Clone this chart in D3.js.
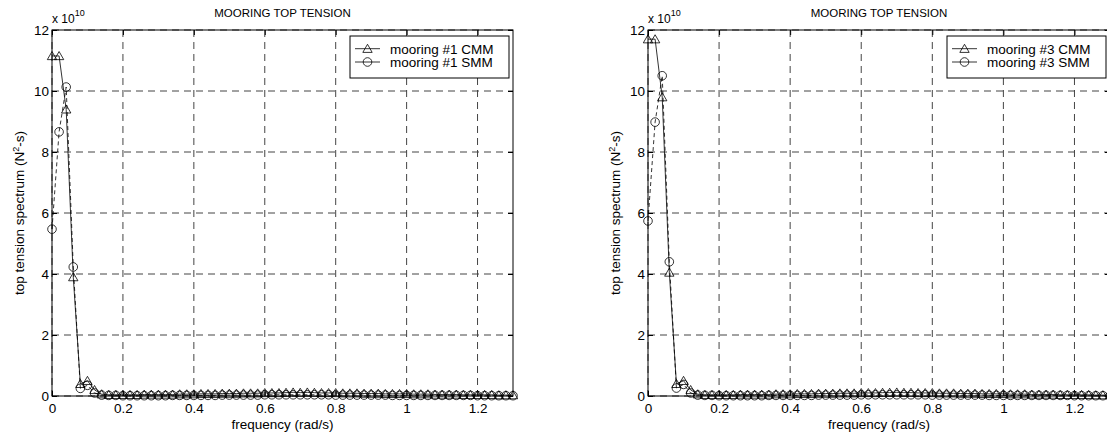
<!DOCTYPE html>
<html>
<head>
<meta charset="utf-8">
<script src="https://cdn.jsdelivr.net/npm/d3@7"></script>
<style>
  body { margin: 0; background: #fff; }
  svg { display: block; font-family: "Liberation Sans", Arial, Helvetica, sans-serif; }
</style>
</head>
<body>
<div id="chart"></div>
<script>
// frequency (rad/s)
const freq = [0, 0.02, 0.04, 0.06, 0.08, 0.10, 0.12, 0.14, 0.16, 0.18,
    0.20, 0.22, 0.24, 0.26, 0.28, 0.30, 0.32, 0.34, 0.36, 0.38,
    0.40, 0.42, 0.44, 0.46, 0.48, 0.50, 0.52, 0.54, 0.56, 0.58,
    0.60, 0.62, 0.64, 0.66, 0.68, 0.70, 0.72, 0.74, 0.76, 0.78,
    0.80, 0.82, 0.84, 0.86, 0.88, 0.90, 0.92, 0.94, 0.96, 0.98,
    1.00, 1.02, 1.04, 1.06, 1.08, 1.10, 1.12, 1.14, 1.16, 1.18,
    1.20, 1.22, 1.24, 1.26, 1.28, 1.30];

// top tension spectrum, x 10^10 N^2-s
const cmm1 = [11.15, 11.15, 9.40, 3.90, 0.40, 0.50, 0.20, 0.06, 0.04, 0.04,
    0.04, 0.04, 0.04, 0.05, 0.05, 0.05, 0.05, 0.05, 0.06, 0.06,
    0.06, 0.07, 0.07, 0.07, 0.08, 0.08, 0.08, 0.09, 0.09, 0.09,
    0.10, 0.10, 0.10, 0.11, 0.12, 0.11, 0.12, 0.11, 0.10, 0.10,
    0.10, 0.09, 0.09, 0.09, 0.08, 0.08, 0.08, 0.07, 0.07, 0.07,
    0.07, 0.06, 0.06, 0.06, 0.05, 0.05, 0.05, 0.05, 0.04, 0.04,
    0.04, 0.04, 0.04, 0.03, 0.03, 0.03];
const smm1 = [5.47, 8.66, 10.13, 4.23, 0.25, 0.35, 0.10, 0.03, 0.02, 0.02,
    0.01, 0.01, 0.01, 0.01, 0.01, 0.01, 0.01, 0.02, 0.02, 0.02,
    0.02, 0.02, 0.02, 0.02, 0.03, 0.03, 0.03, 0.03, 0.03, 0.03,
    0.04, 0.04, 0.04, 0.04, 0.04, 0.04, 0.04, 0.04, 0.04, 0.04,
    0.03, 0.03, 0.03, 0.03, 0.03, 0.03, 0.03, 0.03, 0.02, 0.02,
    0.02, 0.02, 0.02, 0.02, 0.02, 0.02, 0.02, 0.02, 0.02, 0.02,
    0.01, 0.01, 0.01, 0.01, 0.01, 0.01];
const cmm3 = [11.70, 11.70, 9.80, 4.05, 0.40, 0.50, 0.20, 0.06, 0.04, 0.04,
    0.04, 0.04, 0.04, 0.05, 0.05, 0.05, 0.05, 0.05, 0.06, 0.06,
    0.06, 0.07, 0.07, 0.07, 0.08, 0.08, 0.08, 0.09, 0.09, 0.09,
    0.10, 0.10, 0.10, 0.11, 0.11, 0.12, 0.11, 0.11, 0.10, 0.10,
    0.10, 0.09, 0.09, 0.09, 0.08, 0.08, 0.08, 0.07, 0.07, 0.07,
    0.07, 0.06, 0.06, 0.06, 0.05, 0.05, 0.05, 0.05, 0.04, 0.04,
    0.04, 0.04, 0.04, 0.03, 0.03, 0.03];
const smm3 = [5.74, 8.98, 10.50, 4.40, 0.26, 0.38, 0.10, 0.03, 0.02, 0.02,
    0.01, 0.01, 0.01, 0.01, 0.01, 0.01, 0.01, 0.02, 0.02, 0.02,
    0.02, 0.02, 0.02, 0.02, 0.03, 0.03, 0.03, 0.03, 0.03, 0.03,
    0.04, 0.04, 0.04, 0.04, 0.04, 0.04, 0.04, 0.04, 0.04, 0.04,
    0.03, 0.03, 0.03, 0.03, 0.03, 0.03, 0.03, 0.03, 0.02, 0.02,
    0.02, 0.02, 0.02, 0.02, 0.02, 0.02, 0.02, 0.02, 0.02, 0.02,
    0.01, 0.01, 0.01, 0.01, 0.01, 0.01];

const xTicks = [0, 0.2, 0.4, 0.6, 0.8, 1, 1.2];
const yTicks = [0, 2, 4, 6, 8, 10, 12];
const titleText = "MOORING TOP TENSION";

const W = 1107, H = 439;
const FS = 13.5;   // tick / label / legend font size
const svg = d3.select("#chart").append("svg").attr("width", W).attr("height", H);

const triangle = d3.symbol().type(d3.symbolTriangle).size(38);

function drawMarker(g, kind, x, y) {
    if (kind === "tri") {
        g.append("path").attr("d", triangle())
            .attr("transform", `translate(${x},${y + 1})`)
            .attr("fill", "none").attr("stroke", "#000").attr("stroke-width", 0.8);
    } else {
        g.append("circle").attr("cx", x).attr("cy", y).attr("r", 4.3)
            .attr("fill", "none").attr("stroke", "#000").attr("stroke-width", 0.8);
    }
}

function panel(left, right, cmm, smm, names) {
    const top = 30, bottom = 396;
    const x = d3.scaleLinear().domain([0, 1.3]).range([left, right]);
    const y = d3.scaleLinear().domain([0, 12]).range([bottom, top]);
    const g = svg.append("g");

    // grid
    g.append("g").selectAll("line").data(xTicks).join("line")
        .attr("x1", d => x(d)).attr("x2", d => x(d)).attr("y1", top).attr("y2", bottom)
        .attr("stroke", "#444").attr("stroke-dasharray", "7,5");
    g.append("g").selectAll("line").data(yTicks).join("line")
        .attr("x1", left).attr("x2", right).attr("y1", d => y(d)).attr("y2", d => y(d))
        .attr("stroke", "#444").attr("stroke-dasharray", "7,5");

    // axes, ticks inside
    g.append("g").attr("transform", `translate(0,${bottom})`)
        .call(d3.axisBottom(x).tickValues(xTicks).tickSize(-5).tickPadding(7).tickFormat(d3.format("~g")));
    g.append("g").attr("transform", `translate(${left},0)`)
        .call(d3.axisLeft(y).tickValues(yTicks).tickSize(-5).tickPadding(3));
    g.append("g").attr("transform", `translate(0,${top})`)
        .call(d3.axisTop(x).tickValues(xTicks).tickSize(-5).tickFormat(""));
    g.append("g").attr("transform", `translate(${right},0)`)
        .call(d3.axisRight(y).tickValues(yTicks).tickSize(-5).tickFormat(""));
    g.selectAll(".domain").remove();
    g.selectAll(".tick line").attr("stroke", "#000");
    g.selectAll(".tick text").attr("font-size", FS).attr("fill", "#000")
        .attr("font-family", "Liberation Sans, Arial, sans-serif");
    g.append("rect").attr("x", left).attr("y", top).attr("width", right - left).attr("height", bottom - top)
        .attr("fill", "none").attr("stroke", "#000").attr("stroke-width", 1);

    // series
    const pts = s => freq.map((f, i) => [x(f), y(s[i])]);
    g.append("path").attr("d", d3.line()(pts(cmm)))
        .attr("fill", "none").attr("stroke", "#000").attr("stroke-width", 0.8);
    g.append("path").attr("d", d3.line()(pts(smm)))
        .attr("fill", "none").attr("stroke", "#000").attr("stroke-width", 0.8).attr("stroke-dasharray", "4,3");
    const mk = g.append("g");
    pts(cmm).forEach(p => drawMarker(mk, "tri", p[0], p[1]));
    pts(smm).forEach(p => drawMarker(mk, "circ", p[0], p[1]));

    // texts
    const mid = (left + right) / 2;
    g.append("text").attr("x", mid).attr("y", 17).attr("text-anchor", "middle")
        .attr("font-size", 11.5).text(titleText);
    g.append("text").attr("x", mid).attr("y", 429).attr("text-anchor", "middle")
        .attr("font-size", FS).text("frequency (rad/s)");
    const yl = g.append("text").attr("transform", `translate(${left - 28},${(top + bottom) / 2}) rotate(-90)`)
        .attr("text-anchor", "middle").attr("font-size", FS);
    yl.append("tspan").text("top tension spectrum (N");
    yl.append("tspan").attr("font-size", 9).attr("dy", -5).text("2");
    yl.append("tspan").attr("dy", 5).text("-s)");
    const ex = g.append("text").attr("x", left).attr("y", 23).attr("font-size", 12);
    ex.append("tspan").text("x 10");
    ex.append("tspan").attr("font-size", 9).attr("dy", -7).text("10");

    // legend
    const lx = right - 163, ly = 36;
    const lg = g.append("g");
    lg.append("rect").attr("x", lx).attr("y", ly).attr("width", 159).attr("height", 42)
        .attr("fill", "#fff").attr("stroke", "#000").attr("stroke-width", 1);
    names.forEach((n, i) => {
        const ry = ly + 12.7 + i * 13.3;
        lg.append("line").attr("x1", lx + 5).attr("x2", lx + 30).attr("y1", ry).attr("y2", ry)
            .attr("stroke", "#000").attr("stroke-width", 0.8);
        drawMarker(lg, i === 0 ? "tri" : "circ", lx + 17.5, ry);
        lg.append("text").attr("x", lx + 40).attr("y", ry + 5).attr("font-size", FS).text(n);
    });
}

panel(52, 513, cmm1, smm1, ["mooring #1 CMM", "mooring #1 SMM"]);
panel(648, 1110, cmm3, smm3, ["mooring #3 CMM", "mooring #3 SMM"]);
</script>
</body>
</html>
